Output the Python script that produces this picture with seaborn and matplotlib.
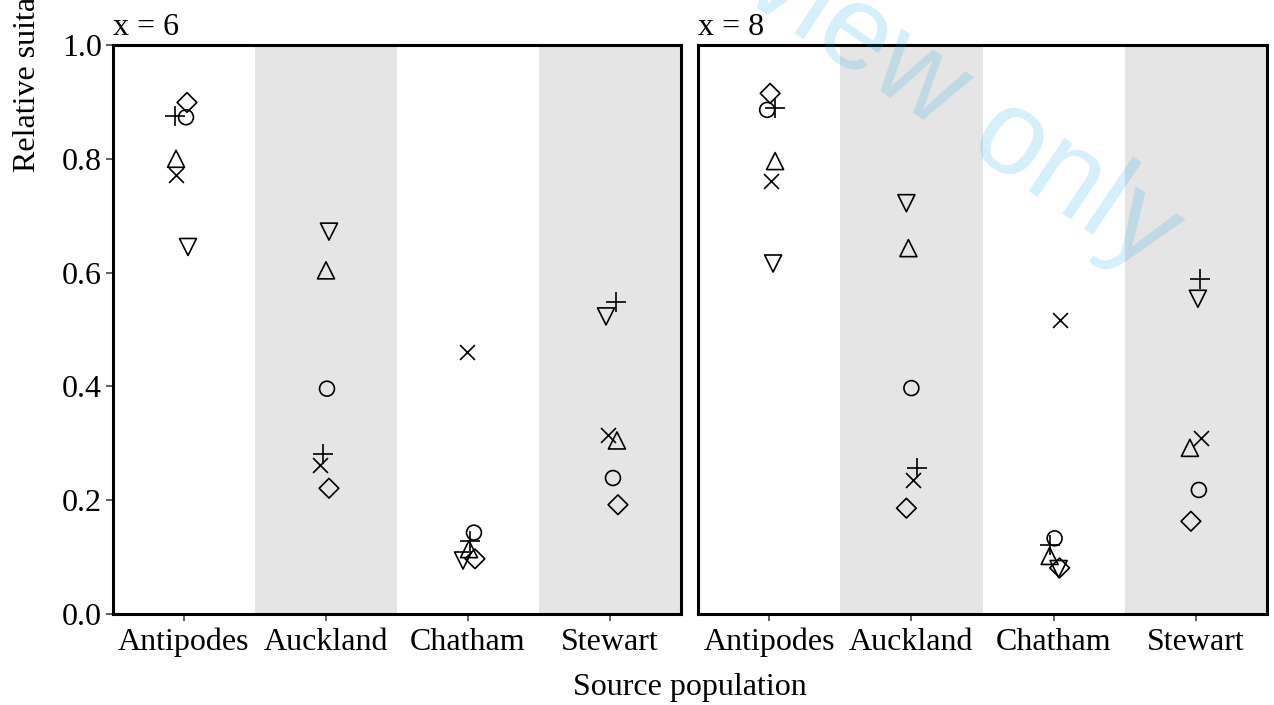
import pandas as pd
import matplotlib.pyplot as plt
import seaborn as sns

# Source populations on the x axis, one panel per x value
sources = ["Antipodes", "Auckland", "Chatham", "Stewart"]
panels = ["x = 6", "x = 8"]
groups = ["diamond", "plus", "circle", "tri_up", "cross", "tri_down"]

# Relative suitability (Antipodes, Auckland, Chatham, Stewart)
x6_values = {
    "diamond":  [0.899, 0.221, 0.097, 0.192],
    "plus":     [0.876, 0.282, 0.129, 0.549],
    "circle":   [0.873, 0.396, 0.143, 0.239],
    "tri_up":   [0.800, 0.604, 0.114, 0.305],
    "cross":    [0.771, 0.262, 0.460, 0.315],
    "tri_down": [0.645, 0.672, 0.094, 0.523],
}
x8_values = {
    "diamond":  [0.915, 0.186, 0.081, 0.163],
    "plus":     [0.890, 0.257, 0.121, 0.588],
    "circle":   [0.886, 0.397, 0.133, 0.218],
    "tri_up":   [0.796, 0.643, 0.102, 0.292],
    "cross":    [0.761, 0.235, 0.516, 0.309],
    "tri_down": [0.616, 0.722, 0.079, 0.554],
}

# horizontal jitter of each point (in category widths)
x6_jitter = {
    "diamond":  [0.021, 0.021, 0.049, 0.056],
    "plus":     [-0.063, -0.021, 0.014, 0.042],
    "circle":   [0.014, 0.007, 0.042, 0.021],
    "tri_up":   [-0.056, 0.000, 0.007, 0.049],
    "cross":    [-0.056, -0.042, -0.007, -0.014],
    "tri_down": [0.028, 0.021, -0.035, -0.028],
}
x8_jitter = {
    "diamond":  [0.007, -0.035, 0.042, -0.035],
    "plus":     [0.042, 0.042, -0.028, 0.028],
    "circle":   [-0.014, 0.000, 0.007, 0.021],
    "tri_up":   [0.042, -0.021, -0.028, -0.042],
    "cross":    [0.014, 0.014, 0.042, 0.035],
    "tri_down": [0.028, -0.035, 0.035, 0.014],
}

rows = []
for panel, vals, jit in [(panels[0], x6_values, x6_jitter), (panels[1], x8_values, x8_jitter)]:
    for g in groups:
        for i, src in enumerate(sources):
            rows.append({"panel": panel, "source": src, "group": g,
                         "value": vals[g][i], "xpos": i + jit[g][i]})
df = pd.DataFrame(rows)

markers = {"diamond": "D", "plus": "+", "circle": "o",
           "tri_up": "^", "cross": "x", "tri_down": "v"}
sizes = {"diamond": 100, "plus": 200, "circle": 115,
         "tri_up": 150, "cross": 115, "tri_down": 150}

sns.set_style("ticks")
plt.rcParams["font.family"] = ["Liberation Serif", "DejaVu Serif"]
plt.rcParams["text.color"] = "black"
plt.rcParams["axes.labelcolor"] = "black"

fig = plt.figure(figsize=(12.74, 7.05), dpi=100)
ax_left = fig.add_axes([113 / 1274, 91 / 705, 568 / 1274, 569 / 705])
ax_right = fig.add_axes([698 / 1274, 91 / 705, 569 / 1274, 569 / 705])

for ax, panel in zip([ax_left, ax_right], panels):
    # shaded bands behind every second source
    for i in range(1, len(sources), 2):
        ax.axvspan(i - 0.5, i + 0.5, color="#E5E5E5", lw=0, zorder=0)
    sub = df[df["panel"] == panel]
    for g in groups:
        d = sub[sub["group"] == g]
        if markers[g] in ("+", "x"):
            sns.scatterplot(data=d, x="xpos", y="value", marker=markers[g],
                            s=sizes[g], color="black", linewidth=1.2, ax=ax, zorder=3)
        else:
            sns.scatterplot(data=d, x="xpos", y="value", marker=markers[g],
                            s=sizes[g], facecolor="none", edgecolor="black",
                            linewidth=1.2, ax=ax, zorder=3)
    ax.set_xlim(-0.5, len(sources) - 0.5)
    ax.set_ylim(0, 1)
    ax.set_xticks(range(len(sources)))
    ax.set_xticklabels(sources)
    ax.set_xlabel("")
    ax.set_ylabel("")
    ax.set_title(panel, loc="left", fontsize=23, pad=7, color="black")
    for sp in ax.spines.values():
        sp.set_visible(True)
        sp.set_linewidth(2.2)
        sp.set_color("black")
    ax.tick_params(axis="both", labelsize=23, length=5, width=1.1,
                   color="#333333", labelcolor="black", pad=3)
    ax.tick_params(axis="x", pad=5)

ax_left.set_yticks([0.0, 0.2, 0.4, 0.6, 0.8, 1.0])
ax_left.set_yticklabels(["0.0", "0.2", "0.4", "0.6", "0.8", "1.0"])
ax_right.set_yticks([])

fig.text(690 / 1274, 1 - 688 / 705, "Source population", ha="center", va="center",
         fontsize=23, color="black")
fig.text(27 / 1274, 1 - 172 / 705, "Relative suitability", rotation=90,
         ha="center", va="bottom", fontsize=23, color="black")

# watermark
fig.text(883 / 1274, 1 - 55 / 705, "Preview only", rotation=-34, rotation_mode="anchor",
         ha="center", va="center", fontsize=87, color="#00A0E9", alpha=0.17,
         family=["Liberation Sans", "DejaVu Sans"])

fig.savefig("out.png", dpi=100)
